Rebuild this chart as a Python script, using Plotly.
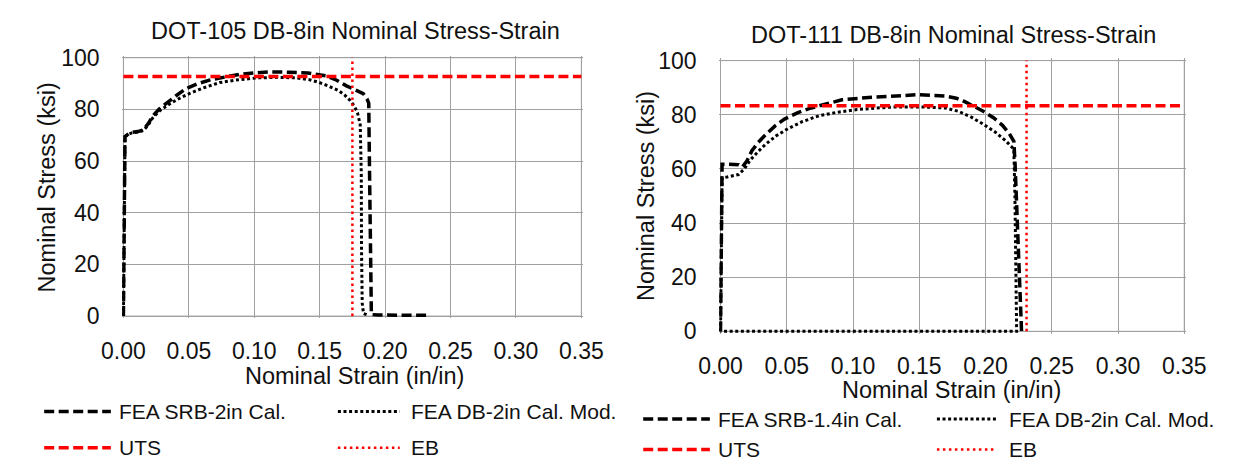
import plotly.graph_objects as go

W, H = 1241, 472

# ---------------- data ----------------
x_ticks = [0.00, 0.05, 0.10, 0.15, 0.20, 0.25, 0.30, 0.35]
y_ticks = [0, 20, 40, 60, 80, 100]

# DOT-105 (left)
l_srb_strain = [0, 0.0004, 0.0012, 0.004, 0.0065, 0.011, 0.0152, 0.019, 0.0225, 0.0275, 0.0328,
                0.040, 0.0474, 0.057, 0.0678, 0.078, 0.0883, 0.100, 0.1117, 0.126, 0.1409, 0.1555,
                0.163, 0.1701, 0.177, 0.1833, 0.1862, 0.1875, 0.188, 0.1885, 0.189, 0.1895,
                0.195, 0.210, 0.2315]
l_srb_stress = [0, 35, 69.5, 70.6, 71.1, 71.4, 72.0, 74.5, 77.5, 80.2, 82.4,
                85.2, 87.9, 90.0, 91.6, 92.7, 93.5, 94.1, 94.5, 94.4, 94.1, 92.9,
                91.3, 89.2, 87.6, 86.1, 84.0, 82.4, 60.0, 30.0, 5.0, 0.6,
                0.4, 0.3, 0.3]
l_db_strain = [0, 0.0004, 0.0012, 0.004, 0.0065, 0.011, 0.0152, 0.019, 0.0225, 0.028, 0.035,
               0.0425, 0.0503, 0.061, 0.0737, 0.088, 0.103, 0.118, 0.132, 0.142, 0.1497,
               0.157, 0.1643, 0.169, 0.173, 0.1765, 0.1789, 0.181, 0.1818, 0.182, 0.1825,
               0.1835, 0.186]
l_db_stress = [0, 35, 69.5, 70.4, 70.9, 71.2, 71.8, 74.0, 76.8, 79.6, 82.0,
               84.2, 86.1, 88.3, 90.4, 91.5, 92.2, 92.4, 92.2, 91.5, 90.4,
               89.0, 87.3, 85.6, 83.6, 81.3, 78.7, 74.0, 55.0, 25.0, 5.0,
               1.0, 0.5]
l_uts = 92.7
l_eb = 0.175

# DOT-111 (right)
r_srb_strain = [0, 0.0004, 0.0012, 0.005, 0.0095, 0.0136, 0.0165, 0.020, 0.0237, 0.0285, 0.0338,
                0.041, 0.0483, 0.058, 0.0685, 0.080, 0.0916, 0.1117, 0.130, 0.1493, 0.1695,
                0.178, 0.184, 0.191, 0.1983, 0.206, 0.2128, 0.218, 0.2214, 0.2223, 0.2235,
                0.2248, 0.226, 0.2272]
r_srb_stress = [0, 30, 61.7, 61.7, 61.6, 61.5, 60.7, 63.0, 66.7, 69.8, 72.5,
                75.8, 78.4, 80.7, 82.5, 84.1, 85.5, 86.4, 86.9, 87.4, 86.9,
                86.1, 84.9, 83.3, 81.3, 78.9, 76.1, 73.0, 70.2, 62.0, 45.0,
                28.0, 12.0, 0]
r_db_strain = [0, 0.0004, 0.0012, 0.005, 0.0095, 0.0136, 0.018, 0.0222, 0.028, 0.0338, 0.042,
               0.0511, 0.062, 0.0742, 0.088, 0.1031, 0.118, 0.132, 0.150, 0.1695, 0.180,
               0.1897, 0.198, 0.207, 0.215, 0.2214, 0.2222, 0.2228, 0.2232, 0.2235, 0.0]
r_db_stress = [0, 30, 56.7, 57.0, 57.4, 57.9, 60.0, 63.1, 66.2, 69.0, 72.2,
               74.9, 77.5, 79.6, 80.9, 81.9, 82.5, 82.9, 82.9, 82.5, 81.2,
               79.0, 76.6, 73.7, 70.5, 67.3, 50.0, 30.0, 10.0, 0, 0]
r_uts = 83.3
r_eb = 0.231

left_title = "DOT-105 DB-8in Nominal Stress-Strain"
right_title = "DOT-111 DB-8in Nominal Stress-Strain"
x_title = "Nominal Strain (in/in)"
y_title = "Nominal Stress (ksi)"
left_names = ["FEA SRB-2in Cal.", "FEA DB-2in Cal. Mod.", "UTS", "EB"]
right_names = ["FEA SRB-1.4in Cal.", "FEA DB-2in Cal. Mod.", "UTS", "EB"]

# ---------------- styling / layout helpers ----------------
FONT = "Liberation Sans, Arial, sans-serif"
TXT = "#111111"
GRID = "#A0A0A0"
XR = [-0.001, 0.351]
YR = [-0.8, 100.8]


def px(x):
    return x / W


def py(y):
    return 1 - y / H


def domains(x0, x1, y_top, y_bot):
    # pixel positions of data 0..0.35 and 100..0 -> axis domain with small padding
    sx = (x1 - x0) / 0.35
    sy = (y_bot - y_top) / 100.0
    dx = [px(x0 + XR[0] * sx), px(x1 + (XR[1] - 0.35) * sx)]
    dy = [py(y_bot - YR[0] * sy), py(y_top - (YR[1] - 100) * sy)]
    return dx, dy


L = dict(x0=106, x1=580, yt=49, yb=320)
R = dict(x0=724, x1=1204, yt=52, yb=336)

ldx, ldy = domains(L["x0"], L["x1"], L["yt"], L["yb"])
rdx, rdy = domains(R["x0"], R["x1"], R["yt"], R["yb"])

DASH = "10px,4.5px"
DOT = "3px,2.6px"
REDDOT = "2.5px,3.5px"

fig = go.Figure()


def add_set(xa, ya, srb_x, srb_y, db_x, db_y, uts, eb, names):
    fig.add_trace(go.Scatter(x=srb_x, y=srb_y, mode="lines", name=names[0], xaxis=xa, yaxis=ya,
                             line=dict(color="black", width=3.5, dash=DASH), showlegend=False))
    fig.add_trace(go.Scatter(x=db_x, y=db_y, mode="lines", name=names[1], xaxis=xa, yaxis=ya,
                             line=dict(color="black", width=3, dash=DOT), showlegend=False))
    fig.add_trace(go.Scatter(x=[x_ticks[0], x_ticks[-1]], y=[uts, uts], mode="lines", name=names[2],
                             xaxis=xa, yaxis=ya,
                             line=dict(color="#FF0000", width=3.5, dash=DASH), showlegend=False))
    fig.add_trace(go.Scatter(x=[eb, eb], y=[y_ticks[0], y_ticks[-1]], mode="lines", name=names[3],
                             xaxis=xa, yaxis=ya,
                             line=dict(color="#FF0000", width=2.5, dash=REDDOT), showlegend=False))


add_set("x", "y", l_srb_strain, l_srb_stress, l_db_strain, l_db_stress, l_uts, l_eb, left_names)
add_set("x2", "y2", r_srb_strain, r_srb_stress, r_db_strain, r_db_stress, r_uts, r_eb, right_names)

xaxis_common = dict(range=XR, tickvals=x_ticks, ticktext=[f"{v:.2f}" for v in x_ticks],
                    showgrid=True, gridcolor=GRID, gridwidth=1, zeroline=False, showline=False,
                    ticks="outside", ticklen=12, tickcolor="rgba(0,0,0,0)",
                    tickfont=dict(family=FONT, size=23, color=TXT), fixedrange=True)
yaxis_common = dict(range=YR, tickvals=y_ticks, ticktext=[str(v) for v in y_ticks],
                    showgrid=True, gridcolor=GRID, gridwidth=1, zeroline=False, showline=False,
                    ticks="outside", ticklen=17, tickcolor="rgba(0,0,0,0)",
                    tickfont=dict(family=FONT, size=23, color=TXT), fixedrange=True)

fig.update_layout(
    width=W, height=H, margin=dict(l=0, r=0, t=0, b=0, pad=0), autosize=False,
    paper_bgcolor="white", plot_bgcolor="white",
    font=dict(family=FONT, color=TXT),
    xaxis=dict(domain=ldx, anchor="y", **xaxis_common),
    yaxis=dict(domain=ldy, anchor="x", **yaxis_common),
    xaxis2=dict(domain=rdx, anchor="y2", **xaxis_common),
    yaxis2=dict(domain=rdy, anchor="x2", **yaxis_common),
    showlegend=False,
)

shapes = []
annotations = []

# plot borders
for xr, yr in (("x", "y"), ("x2", "y2")):
    shapes.append(dict(type="rect", xref=xr, yref=yr, x0=x_ticks[0], x1=x_ticks[-1],
                       y0=y_ticks[0], y1=y_ticks[-1], line=dict(color=GRID, width=1), layer="below"))


def text(x, y, s, size, anchor="center", angle=0):
    annotations.append(dict(x=px(x), y=py(y), xref="paper", yref="paper", text=s, showarrow=False,
                            xanchor=anchor, yanchor="middle", textangle=angle,
                            font=dict(family=FONT, size=size, color=TXT)))


# titles and axis titles
text(346, 21, left_title, 23.5)
text(965, 25, right_title, 23.5)
text(345, 383, x_title, 23.5)
text(963, 398, x_title, 23.5)
text(27, 185, y_title, 23.5, angle=-90)
text(647, 194, y_title, 23.5, angle=-90)


# legends drawn with long line samples as in the reference
def legend_item(x0, x1, y, color, width, dash, label, tx):
    shapes.append(dict(type="line", xref="paper", yref="paper", x0=px(x0), x1=px(x1), y0=py(y), y1=py(y),
                       line=dict(color=color, width=width, dash=dash)))
    text(tx, y, label, 21, anchor="left")


legend_item(24, 93, 420, "black", 3.5, DASH, left_names[0], 99)
legend_item(328, 392, 420, "black", 3, DOT, left_names[1], 402)
legend_item(24, 93, 458, "#FF0000", 3.5, DASH, left_names[2], 99)
legend_item(328, 392, 458, "#FF0000", 2.5, REDDOT, left_names[3], 402)

legend_item(644, 713, 428, "black", 3.5, DASH, right_names[0], 719)
legend_item(948, 1010, 428, "black", 3, DOT, right_names[1], 1021)
legend_item(644, 713, 460, "#FF0000", 3.5, DASH, right_names[2], 719)
legend_item(948, 1010, 460, "#FF0000", 2.5, REDDOT, right_names[3], 1021)

fig.update_layout(shapes=shapes, annotations=annotations)

fig.write_html("out.html")
